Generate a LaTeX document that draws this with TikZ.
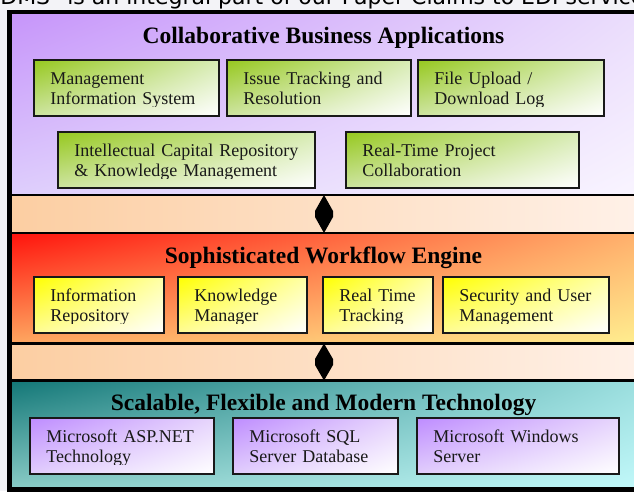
\documentclass[tikz,border=0pt]{standalone}
\usepackage{fontspec}
\setmainfont{Liberation Serif}
\newfontfamily\headfont{DejaVu Sans}
\usepackage{trimclip}
\usetikzlibrary{calc,shadings}

\definecolor{pagebg}{RGB}{243,243,247}
\definecolor{peachL}{RGB}{252,206,162}
\definecolor{peachR}{RGB}{255,242,234}
\definecolor{appsUL}{RGB}{198,148,250}
\definecolor{appsUR}{RGB}{236,224,252}
\definecolor{appsLL}{RGB}{222,206,252}
\definecolor{appsLR}{RGB}{250,246,255}
\definecolor{engUL}{RGB}{255,18,12}
\definecolor{engUR}{RGB}{255,182,112}
\definecolor{engLL}{RGB}{254,166,96}
\definecolor{engLR}{RGB}{255,240,145}
\definecolor{techUL}{RGB}{18,118,118}
\definecolor{techUR}{RGB}{160,226,226}
\definecolor{techLL}{RGB}{138,204,198}
\definecolor{techLR}{RGB}{196,250,252}
\definecolor{greenUL}{RGB}{150,200,30}
\definecolor{greenUR}{RGB}{215,235,180}
\definecolor{greenLL}{RGB}{205,228,160}
\definecolor{yellowUL}{RGB}{255,255,0}
\definecolor{yellowUR}{RGB}{255,255,165}
\definecolor{yellowLL}{RGB}{255,252,150}
\definecolor{violetUL}{RGB}{190,140,255}
\definecolor{violetUR}{RGB}{230,212,252}
\definecolor{violetLL}{RGB}{225,205,252}

% two lines of box text, the second one cut just below its baseline
\newcommand{\twolines}[2]{\clipbox{0pt}{\raisebox{0pt}[36pt][2pt]{%
  \begin{tabular}[b]{@{}l@{}}#1\\#2\end{tabular}}}}

\tikzset{
  layer/.style={inner sep=0pt, outer sep=0pt, anchor=north west,
    minimum width=650pt, draw=black, line width=2.2pt},
  layertitle/.style={anchor=base, font=\fontsize{23.5}{28}\selectfont\bfseries},
  modbox/.style={draw=black!90, line width=1.6pt, anchor=north west,
    inner xsep=16.5pt, inner ysep=0pt, minimum height=56pt, align=left,
    font=\fontsize{18}{20.5}\selectfont, text=black!90},
  greenbox/.style={modbox, upper left=greenUL, upper right=greenUR,
    lower left=greenLL, lower right=white},
  yellowbox/.style={modbox, upper left=yellowUL, upper right=yellowUR,
    lower left=yellowLL, lower right=white},
  violetbox/.style={modbox, upper left=violetUL, upper right=violetUR,
    lower left=violetLL, lower right=white},
}

\begin{document}
\begin{tikzpicture}[x=1pt,y=-1pt]
  \useasboundingbox[fill=pagebg] (0,0) rectangle (634,491);
  \node[anchor=base west, inner sep=0pt, font=\headfont\fontsize{22}{25}\selectfont]
    (header) at (-10,4) {"DMS" is an integral part of our Paper Claims to EDI services};

  % frame and layers
  \node[layer, draw=none, minimum height=477.5pt, left color=peachL, right color=peachR]
    (frame) at (9.5,12) {};
  \node[layer, minimum height=183pt, upper left=appsUL, upper right=appsUR,
    lower left=appsLL, lower right=appsLR] (apps) at (9.5,12) {};
  \node[layer, minimum height=110.5pt, upper left=engUL, upper right=engUR,
    lower left=engLL, lower right=engLR] (engine) at (9.5,233) {};
  \node[layer, minimum height=109pt, upper left=techUL, upper right=techUR,
    lower left=techLL, lower right=techLR] (tech) at (9.5,380.5) {};
  \draw[line width=4.5pt] (frame.north west) rectangle (frame.south east);

  % links between layers
  \coordinate (mid) at (324,0);
  \foreach \a/\b in {apps/engine,engine/tech}{
    \coordinate (T) at (\a.south -| mid);
    \coordinate (B) at (\b.north -| mid);
    \coordinate (M) at ($(T)!0.5!(B)$);
    \fill (T) -- ($(M)+(9,-3)$) -- ($(M)+(9,3)$) -- (B)
      -- ($(M)+(-9,3)$) -- ($(M)+(-9,-3)$) -- cycle;
  }

  % Collaborative Business Applications
  \node[layertitle] (appstitle) at (323.5,43.5) {Collaborative Business Applications};
  \node[greenbox, text width=152pt] (mis) at (33,59) {\twolines{Management}{Information System}};
  \node[greenbox, text width=151pt] (issue) at (226,59) {\twolines{Issue Tracking and}{Resolution}};
  \node[greenbox, text width=153pt] (upload) at (417,59) {\twolines{File Upload /}{Download Log}};
  \node[greenbox, text width=224pt] (capital) at (57,131) {\twolines{Intellectual Capital Repository}{\& Knowledge Management}};
  \node[greenbox, text width=200pt] (project) at (345,131) {\twolines{Real-Time Project}{Collaboration}};

  % Sophisticated Workflow Engine
  \node[layertitle] (enginetitle) at (323.5,263) {Sophisticated Workflow Engine};
  \node[yellowbox, text width=97pt] (repo) at (33,276) {\twolines{Information}{Repository}};
  \node[yellowbox, text width=96pt] (know) at (177,276) {\twolines{Knowledge}{Manager}};
  \node[yellowbox, text width=77pt] (track) at (322,276) {\twolines{Real Time}{Tracking}};
  \node[yellowbox, text width=133pt] (secure) at (442,276) {\twolines{Security and User}{Management}};

  % Scalable, Flexible and Modern Technology
  \node[layertitle] (techtitle) at (323.5,410) {Scalable, Flexible and Modern Technology};
  \node[violetbox, text width=151pt] (asp) at (29,417) {\twolines{Microsoft ASP.NET}{Technology}};
  \node[violetbox, text width=132pt] (sql) at (232,417) {\twolines{Microsoft SQL}{Server Database}};
  \node[violetbox, text width=169pt] (win) at (416,417) {\twolines{Microsoft Windows}{Server}};
\end{tikzpicture}
\end{document}
